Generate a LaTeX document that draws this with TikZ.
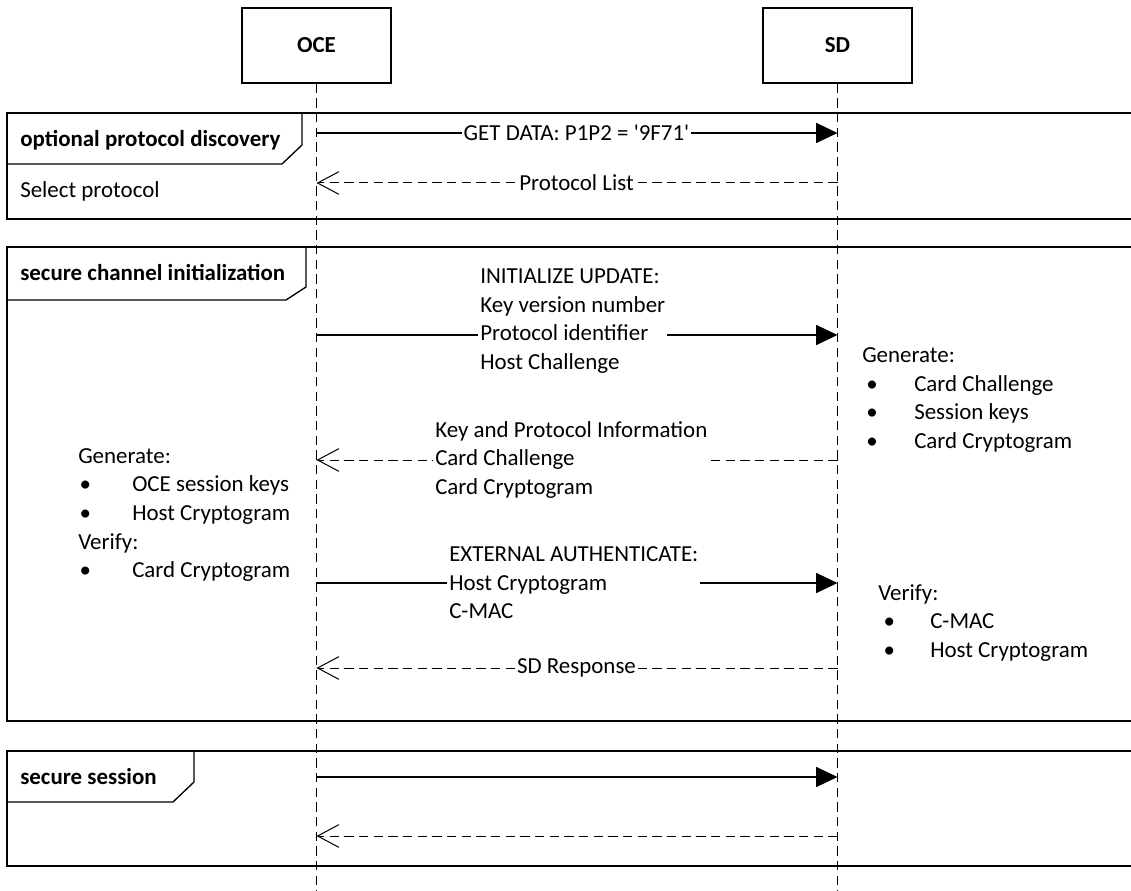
\documentclass[tikz,border=0pt]{standalone}
\usepackage{fontspec}
\setmainfont{Carlito}
\usetikzlibrary{arrows.meta}
\begin{document}
\begin{tikzpicture}[x=0.75pt,y=-0.75pt,
  every node/.style={font=\fontsize{17.2}{21.4}\selectfont, inner sep=1.5pt},
  lifebox/.style={draw, line width=0.9pt, minimum width=111.75pt, minimum height=56.25pt, font=\fontsize{17.2}{21.4}\selectfont\bfseries},
  lifeline/.style={line width=0.75pt, dash pattern=on 7pt off 4pt},
  frame/.style={line width=1pt},
  framelabel/.style={anchor=west, inner sep=0pt, font=\fontsize{17.2}{21.4}\selectfont\bfseries},
  syncmsg/.style={line width=0.9pt, -{Triangle[length=16pt,width=15pt]}},
  retmsg/.style={line width=0.75pt, dash pattern=on 7pt off 4pt, -{Straight Barb[length=16pt,width=17pt,line width=0.75pt]}},
  lbl/.style={fill=white, align=left},
  note/.style={anchor=west, inner sep=0pt, align=left},
]
\useasboundingbox (0,0) rectangle (1131,891);
\clip (0,0) rectangle (1131,891);

% frames
\draw[frame] (7,113) rectangle (1140,219);
\draw[frame] (7,164) -- (282,164) -- (302,145) -- (302,113);
\draw[frame] (7,247) rectangle (1140,721);
\draw[frame] (7,300) -- (286,300) -- (306,287) -- (306,247);
\draw[frame] (7,751) rectangle (1140,866);
\draw[frame] (7,802) -- (173,802) -- (194,782) -- (194,751);

\node[framelabel] (f1) at (20,140) {optional protocol discovery};
\node[framelabel] (f2) at (20,273) {secure channel initialization};
\node[framelabel] (f3) at (20,777) {secure session};
\node[note] (sel) at (20,191) {Select protocol};

% lifelines
\node[lifebox] (oce) at (316.5,45.5) {OCE};
\node[lifebox] (sd) at (837.5,45.5) {SD};
\coordinate (oceend) at (316.5,891);
\coordinate (sdend) at (837.5,891);
\draw[lifeline] (oce.south) -- (oceend);
\draw[lifeline] (sd.south) -- (sdend);

% message anchor points
\foreach \n/\y in {1/133,2/183,3/335,4/460,5/583,6/668,7/777,8/836}{
  \coordinate (o\n) at (316.5,\y);
  \coordinate (s\n) at (837.5,\y);
}

% messages
\draw[syncmsg] (o1) -- (s1);
\draw[retmsg] (s2) -- (o2);
\draw[syncmsg] (o3) -- (s3);
\draw[retmsg] (s4) -- (o4);
\draw[syncmsg] (o5) -- (s5);
\draw[retmsg] (s6) -- (o6);
\draw[syncmsg] (o7) -- (s7);
\draw[retmsg] (s8) -- (o8);

% message labels
\node[lbl] (m1) at (576.5,133) {GET DATA: P1P2 = \textquotesingle 9F71\textquotesingle};
\node[lbl] (m2) at (576.5,183) {Protocol List};
\node[lbl, anchor=west] (m3) at (478,321) {INITIALIZE UPDATE:\\Key version number\\Protocol identifier\\Host Challenge};
\node[lbl, anchor=west] (m4) at (433,460) {Key and Protocol Information\\Card Challenge\\Card Cryptogram};
\node[lbl, anchor=west] (m5) at (447,583) {EXTERNAL AUTHENTICATE:\\Host Cryptogram\\C-MAC};
\node[lbl] (m6) at (576.5,668) {SD Response};

% notes
\node[note] (ocenote) at (78,515) {Generate:\\
\makebox[40.5pt][l]{\hspace{1pt}\textbullet}OCE session keys\\
\makebox[40.5pt][l]{\hspace{1pt}\textbullet}Host Cryptogram\\
Verify:\\
\makebox[40.5pt][l]{\hspace{1pt}\textbullet}Card Cryptogram};
\node[note] (sdnote) at (862,400) {Generate:\\
\makebox[39pt][l]{\hspace{3pt}\textbullet}Card Challenge\\
\makebox[39pt][l]{\hspace{3pt}\textbullet}Session keys\\
\makebox[39pt][l]{\hspace{3pt}\textbullet}Card Cryptogram};
\node[note] (vernote) at (878,623) {Verify:\\
\makebox[39pt][l]{\hspace{4pt}\textbullet}C-MAC\\
\makebox[39pt][l]{\hspace{4pt}\textbullet}Host Cryptogram};
\end{tikzpicture}
\end{document}
